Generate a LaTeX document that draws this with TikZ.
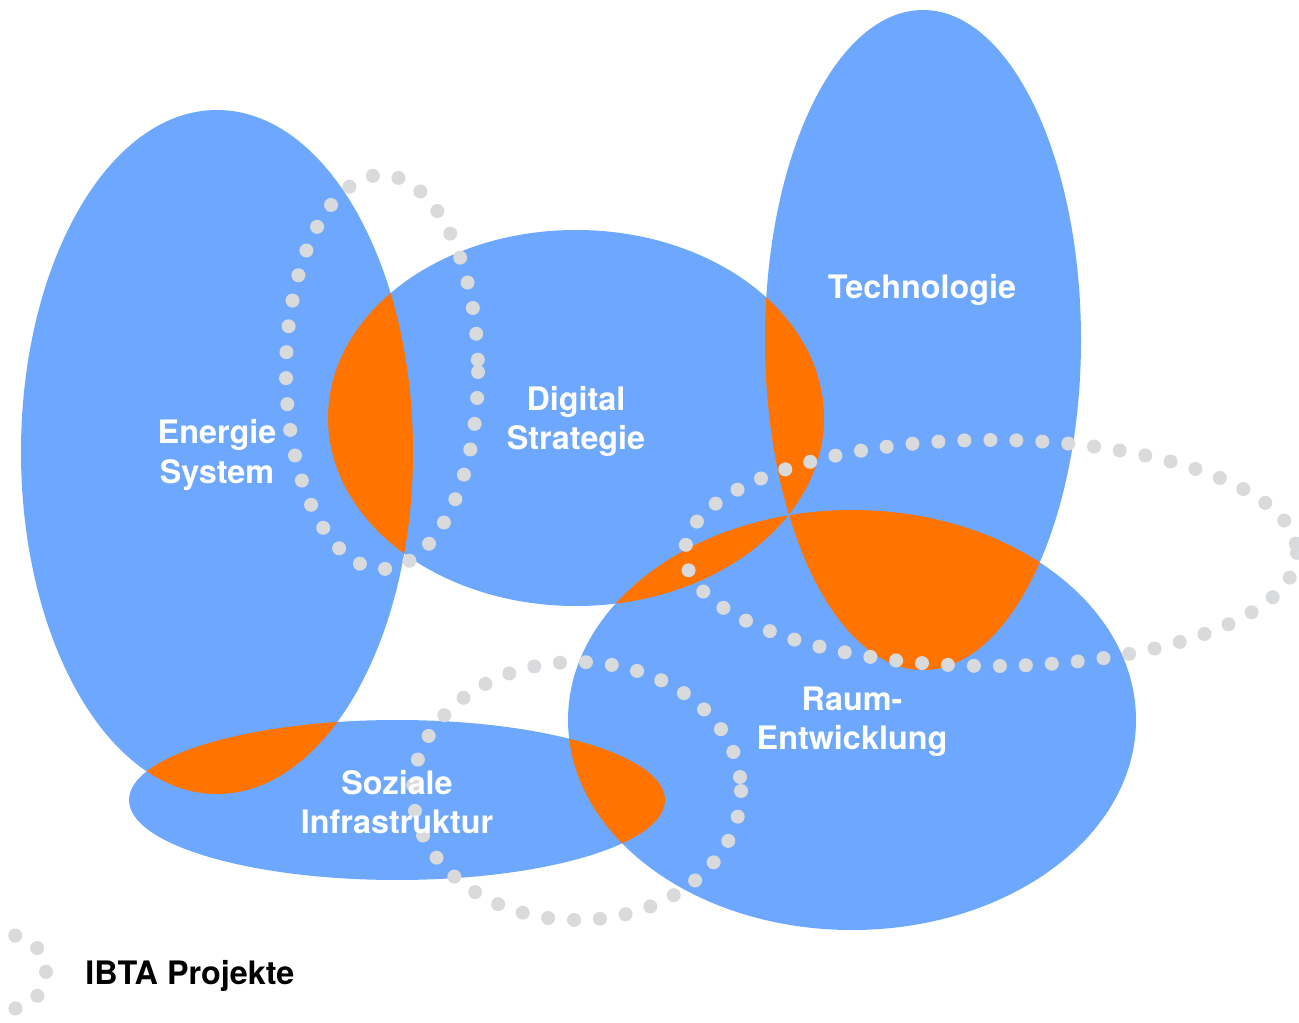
\documentclass[tikz,border=0pt]{standalone}
\usepackage{fontspec}
\setmainfont{TeX Gyre Heros}
\usetikzlibrary{positioning}

\definecolor{fieldblue}{HTML}{6EA8FE}
\definecolor{cutorange}{HTML}{FF7300}
\definecolor{dotgray}{HTML}{D9DADC}

\newcommand{\energie}{(217,452) ellipse [x radius=196, y radius=342]}
\newcommand{\digital}{(576,418) ellipse [x radius=248, y radius=188]}
\newcommand{\technik}{(923,340) ellipse [x radius=158, y radius=330]}
\newcommand{\raum}{(852,720) ellipse [x radius=284, y radius=210]}
\newcommand{\sozial}{(397,800) ellipse [x radius=268, y radius=80]}

\begin{document}
\begin{tikzpicture}[x=0.02cm,y=-0.02cm,
	field/.style={fill=fieldblue},
	cut/.style={fill=cutorange},
	ring/.style={draw=dotgray,line width=0.28cm,line cap=round,dash pattern=on 0pt off 0.52cm},
	tag/.style={text=white,font=\bfseries\fontsize{18.4}{22.2}\selectfont,align=center,inner sep=0pt}]
	\path[use as bounding box,clip] (0,0) rectangle (1299,1023);
	
	\foreach \f in {\energie,\digital,\technik,\raum,\sozial}
	\fill[field] \f;
	
	\foreach \a/\b in {\energie/\digital,\digital/\technik,\digital/\raum,\technik/\raum,\energie/\sozial,\sozial/\raum}
	{
		\begin{scope}
			\clip \a;
			\fill[cut] \b;
		\end{scope}
	}
	
	\draw[ring] (382,372) ellipse [x radius=96, y radius=197];
	\draw[ring] (991,553) ellipse [x radius=306, y radius=113];
	\draw[ring] (577,791) ellipse [x radius=164, y radius=129];
	\draw[ring,dash pattern=on 0pt off 0.516cm] (9,972) circle [radius=37];
	
	\node[tag] (energie) at (217,455) {Energie\\System};
	\node[tag] (digital) at (576,421) {Digital\\Strategie};
	\node[tag] (technik) at (922,290) {Technologie};
	\node[tag] (raum) at (852,722) {Raum-\\Entwicklung};
	\node[tag] (sozial) at (397,802) {Soziale\\Infrastruktur};
	\node[tag,text=black,anchor=base west] (projekte) at (85,984) {IBTA Projekte};
\end{tikzpicture}
\end{document}
